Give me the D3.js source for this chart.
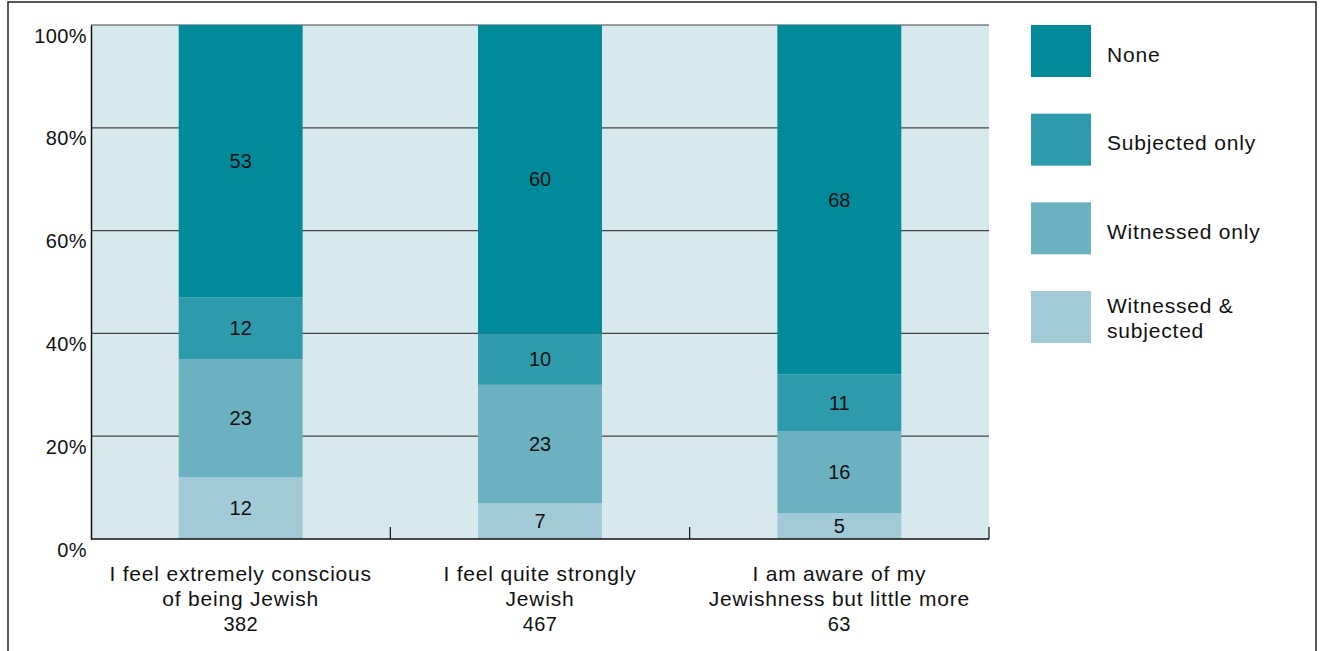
<!DOCTYPE html>
<html>
<head>
<meta charset="utf-8">
<script src="https://cdn.jsdelivr.net/npm/d3@7"></script>
<style>
  html, body { margin: 0; padding: 0; background: #fff; }
  svg { display: block; font-family: "Liberation Sans", Arial, sans-serif; }
</style>
</head>
<body>
<svg id="chart" width="1325" height="651"></svg>
<script>
// ---- data ----
const categories = [
  ["I feel extremely conscious", "of being Jewish", "382"],
  ["I feel quite strongly", "Jewish", "467"],
  ["I am aware of my", "Jewishness but little more", "63"]
];
const seriesNames = ["Witnessed & subjected", "Witnessed only", "Subjected only", "None"];
const witnessedSubjected = [12, 7, 5];
const witnessedOnly = [23, 23, 16];
const subjectedOnly = [12, 10, 11];
const none = [53, 60, 68];
const yTicks = [0, 20, 40, 60, 80, 100];
const yTickLabels = ["0%", "20%", "40%", "60%", "80%", "100%"];
const legendOrder = ["None", "Subjected only", "Witnessed only", "Witnessed & subjected"];
const colors = {
  "None": "#008a9a",
  "Subjected only": "#2e9bad",
  "Witnessed only": "#6bb1bf",
  "Witnessed & subjected": "#a2cad6"
};

// ---- layout ----
const svg = d3.select("#chart");
const plot = { left: 91, top: 25, right: 989, bottom: 539 };
const textLS = 0.8;
const textFS = 21;

// outer frame
svg.append("rect")
  .attr("x", 8).attr("y", 2).attr("width", 1308).attr("height", 700)
  .attr("fill", "none").attr("stroke", "#222").attr("stroke-width", 1.5);

const idx = categories.map((d, i) => i);
const x = d3.scaleBand().domain(idx).range([plot.left, plot.right]).padding(0);
const y = d3.scaleLinear().domain([0, 100]).range([plot.bottom, plot.top]);
const barW = x.bandwidth() * 0.414;

// plot background
svg.append("rect")
  .attr("x", plot.left).attr("y", plot.top)
  .attr("width", plot.right - plot.left).attr("height", plot.bottom - plot.top)
  .attr("fill", "#d8e9ed");

// gridlines
svg.append("g").selectAll("line")
  .data(yTicks.filter(t => t > 0))
  .join("line")
  .attr("x1", plot.left).attr("x2", plot.right)
  .attr("y1", d => y(d)).attr("y2", d => y(d))
  .attr("stroke", "#444").attr("stroke-width", 1.2);

// stack
const table = idx.map(i => ({
  i,
  "Witnessed & subjected": witnessedSubjected[i],
  "Witnessed only": witnessedOnly[i],
  "Subjected only": subjectedOnly[i],
  "None": none[i]
}));
const stack = d3.stack().keys(seriesNames)(table);

const layers = svg.append("g").selectAll("g")
  .data(stack).join("g")
  .attr("fill", d => colors[d.key]);

layers.selectAll("rect")
  .data(d => d)
  .join("rect")
  .attr("x", d => x(d.data.i) + x.bandwidth() / 2 - barW / 2)
  .attr("width", barW)
  .attr("y", d => y(d[1]))
  .attr("height", d => y(d[0]) - y(d[1]));

// value labels
const labels = svg.append("g")
  .attr("font-size", 20).attr("fill", "#111").attr("text-anchor", "middle");
stack.forEach(layer => {
  layer.forEach(d => {
    labels.append("text")
      .attr("x", x(d.data.i) + x.bandwidth() / 2)
      .attr("y", (y(d[0]) + y(d[1])) / 2)
      .attr("dy", "0.36em")
      .text(d.data[layer.key]);
  });
});

// y axis
const yAxis = d3.axisLeft(y).tickValues(yTicks)
  .tickFormat((d, i) => yTickLabels[i]).tickSize(0).tickPadding(4);
const gy = svg.append("g").attr("transform", `translate(${plot.left},0)`).call(yAxis);
gy.select(".domain").attr("stroke", "#111").attr("stroke-width", 1.5);
gy.selectAll("text")
  .attr("font-size", 20).attr("fill", "#111")
  .attr("font-family", "Liberation Sans, Arial, sans-serif")
  .attr("letter-spacing", 0.4)
  .attr("dy", "0.85em");

// x axis line and boundary ticks
const gx = svg.append("g");
gx.append("line")
  .attr("x1", plot.left).attr("x2", plot.right)
  .attr("y1", plot.bottom).attr("y2", plot.bottom)
  .attr("stroke", "#111").attr("stroke-width", 1.5);
gx.selectAll("line.tk")
  .data(idx.slice(1).concat([idx.length]))
  .join("line").attr("class", "tk")
  .attr("x1", d => d < idx.length ? x(d) : x(idx.length - 1) + x.bandwidth())
  .attr("x2", d => d < idx.length ? x(d) : x(idx.length - 1) + x.bandwidth())
  .attr("y1", plot.bottom).attr("y2", plot.bottom - 12)
  .attr("stroke", "#111").attr("stroke-width", 1.2);

// category labels
const cl = svg.append("g").attr("font-size", textFS).attr("fill", "#111")
  .attr("text-anchor", "middle");
categories.forEach((lines, i) => {
  const t = cl.append("text")
    .attr("x", x(i) + x.bandwidth() / 2)
    .attr("y", plot.bottom + 42);
  lines.forEach((ln, j) => {
    t.append("tspan")
      .attr("x", x(i) + x.bandwidth() / 2)
      .attr("dy", j === 0 ? 0 : 25)
      .attr("font-size", j === 2 ? 20 : textFS)
      .attr("letter-spacing", j === 2 ? 0.4 : textLS)
      .text(ln);
  });
});

// legend
const legendLines = {
  "None": ["None"],
  "Subjected only": ["Subjected only"],
  "Witnessed only": ["Witnessed only"],
  "Witnessed & subjected": ["Witnessed &", "subjected"]
};
const legendY = d3.scalePoint().domain(legendOrder).range([25, 291]);
const lg = svg.append("g");
legendOrder.forEach(k => {
  const y0 = legendY(k);
  lg.append("rect")
    .attr("x", 1031).attr("y", y0).attr("width", 60).attr("height", 52)
    .attr("fill", colors[k]);
  const lines = legendLines[k];
  const t = lg.append("text")
    .attr("x", 1107).attr("font-size", textFS).attr("fill", "#111")
    .attr("letter-spacing", textLS)
    .attr("y", lines.length === 1 ? y0 + 29 : y0 + 14);
  lines.forEach((ln, j) => {
    t.append("tspan").attr("x", 1107).attr("dy", j === 0 ? "0.36em" : 25).text(ln);
  });
});
</script>
</body>
</html>
